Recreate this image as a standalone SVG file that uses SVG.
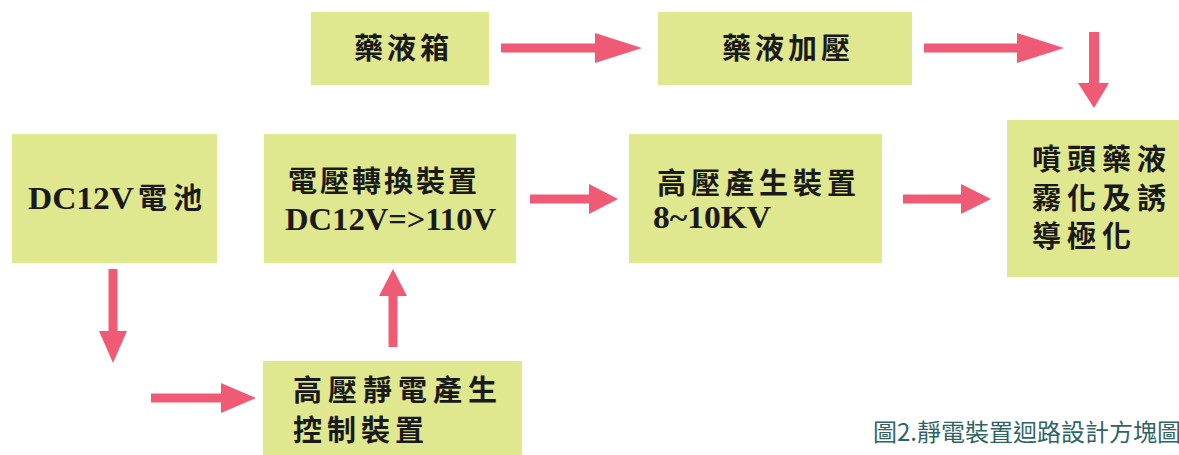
<svg xmlns="http://www.w3.org/2000/svg" width="1179" height="455" viewBox="0 0 1179 455">
<style>
.box{fill:#dfe78f;}
.arr{fill:#ef5a74;}
.cjk{font-family:"Noto Sans CJK TC","Noto Sans CJK SC",sans-serif;font-size:29px;font-weight:600;fill:#1a1a1a;}
.lat{font-family:"Liberation Serif","Times New Roman",serif;font-size:32px;font-weight:bold;fill:#1a1a1a;}
.cap{font-family:"Noto Sans CJK TC","Noto Sans CJK SC",sans-serif;font-size:24px;fill:#2f6464;}
</style>
<rect width="1179" height="455" fill="#ffffff"/>
<g id="node-tank">
<rect class="box" x="311" y="12" width="178" height="73"/>
<text class="cjk" x="354 387 420" y="59">藥液箱</text>
</g>
<g id="node-pressurize">
<rect class="box" x="658" y="12" width="254" height="73"/>
<text class="cjk" x="722 755 788 821" y="59">藥液加壓</text>
</g>
<g id="node-battery">
<rect class="box" x="12" y="134" width="205" height="129"/>
<text class="lat" x="28" y="209" textLength="106" lengthAdjust="spacingAndGlyphs">DC12V</text>
<text class="cjk" x="138 173" y="209">電池</text>
</g>
<g id="node-converter">
<rect class="box" x="264" y="134" width="252" height="129"/>
<text class="cjk" x="288 320 352 384 416 448" y="192">電壓轉換裝置</text>
<text class="lat" x="285" y="230" textLength="211" lengthAdjust="spacingAndGlyphs">DC12V=&gt;110V</text>
</g>
<g id="node-hv">
<rect class="box" x="629" y="134" width="253" height="129"/>
<text class="cjk" x="657 691 725 759 793 827" y="194">高壓產生裝置</text>
<text class="lat" x="653" y="228" textLength="118" lengthAdjust="spacingAndGlyphs">8~10KV</text>
</g>
<g id="node-nozzle">
<rect class="box" x="1007" y="120" width="172" height="157"/>
<text class="cjk" x="1032 1067 1102 1137" y="170">噴頭藥液</text>
<text class="cjk" x="1032 1067 1102 1137" y="209">霧化及誘</text>
<text class="cjk" x="1032 1067 1102" y="247">導極化</text>
</g>
<g id="node-control">
<rect class="box" x="263" y="361" width="259" height="94"/>
<text class="cjk" x="293 328 363 398 433 468" y="401">高壓靜電產生</text>
<text class="cjk" x="293 327 361 395" y="441">控制裝置</text>
</g>
<g id="connectors">
<polygon class="arr" points="501,43.5 595,43.5 595,33 642,48 595,63 595,52.5 501,52.5"/>
<polygon class="arr" points="924,43.5 1017,43.5 1017,33 1064,48 1017,63 1017,52.5 924,52.5"/>
<polygon class="arr" points="1089,32 1099,32 1099,83 1109,83 1094,108 1078,83 1089,83"/>
<polygon class="arr" points="530,194.5 589,194.5 589,184 618,199 589,214 589,203.5 530,203.5"/>
<polygon class="arr" points="903,194.5 961,194.5 961,184 991,199 961,214 961,203.5 903,203.5"/>
<polygon class="arr" points="108.5,269 117.5,269 117.5,331 127,331 113,363 99,331 108.5,331"/>
<polygon class="arr" points="151,393.5 221,393.5 221,383 256,398 221,413 221,402.5 151,402.5"/>
<polygon class="arr" points="388.5,347 397.5,347 397.5,296 407,296 393,269 379,296 388.5,296"/>
</g>
<g id="caption">
<text class="cap" x="873" y="441">圖2.靜電裝置迴路設計方塊圖</text>
</g>
</svg>
